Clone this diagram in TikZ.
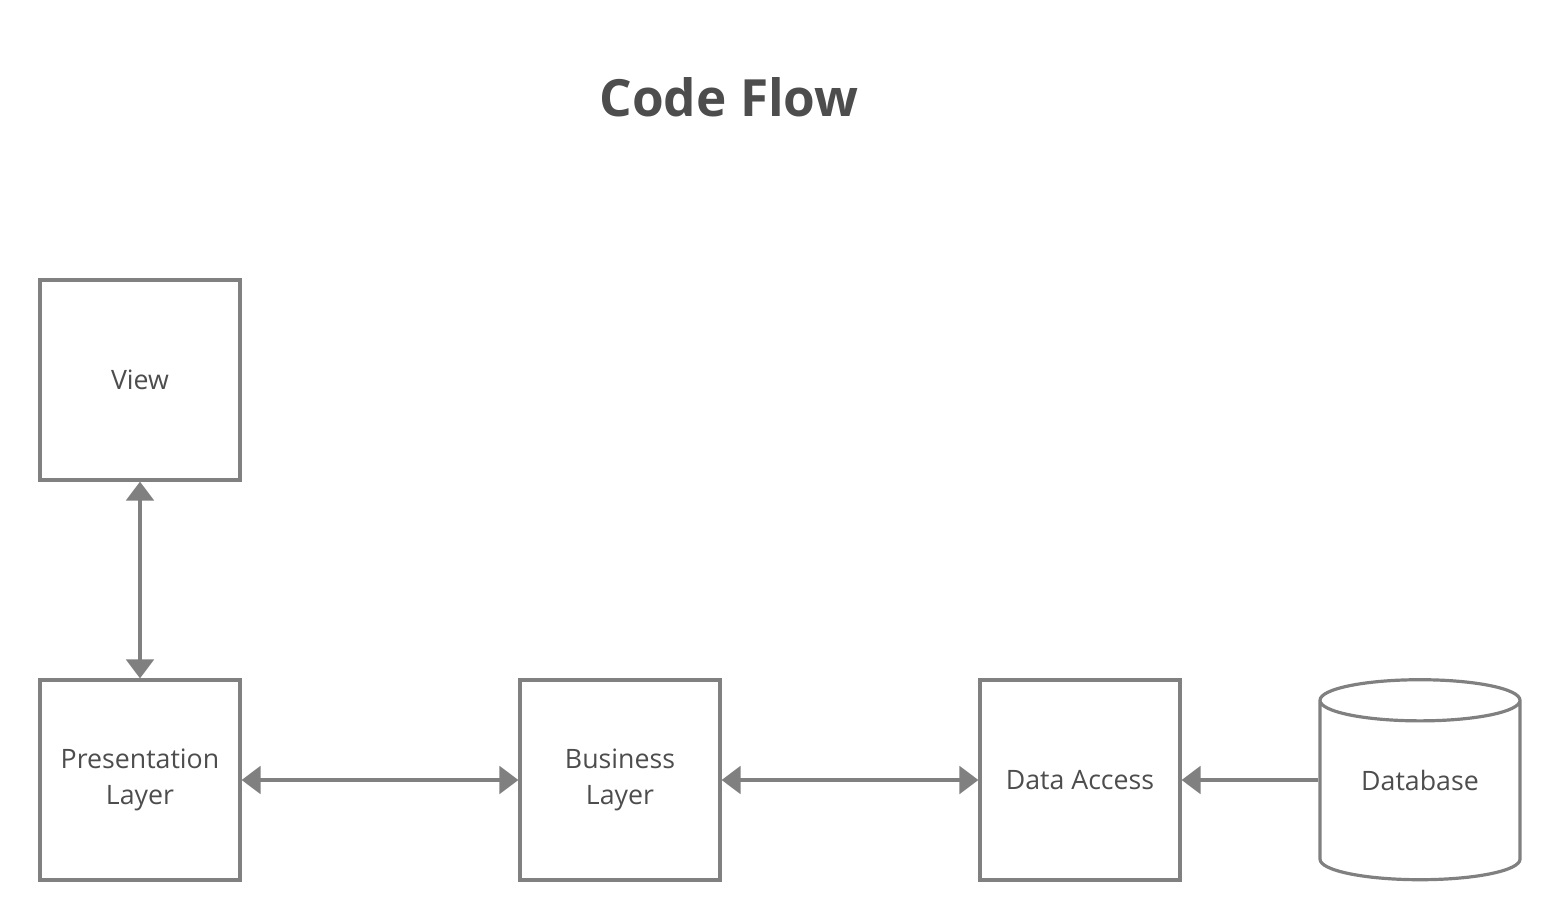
\documentclass[tikz,border=0pt]{standalone}
\usepackage{fontspec}
\setmainfont{Open Sans}
\usetikzlibrary{arrows.meta, positioning, shapes.geometric}

\definecolor{linegray}{HTML}{808080}
\definecolor{textgray}{HTML}{4D4D4D}

\tikzset{
    block/.style = {draw=linegray, line width=0.08cm, rectangle,
                    minimum width=5cm, minimum height=5cm, align=center,
                    text=textgray, font=\fontsize{19pt}{25.5pt}\selectfont},
    store/.style = {draw=linegray, line width=0.08cm, cylinder,
                    shape border rotate=90, aspect=0.35,
                    minimum width=5cm, minimum height=5cm, inner sep=0pt,
                    text=textgray, font=\fontsize{19pt}{25.5pt}\selectfont},
    >={Triangle[width=19.5pt, length=13.5pt]},
    link/.style  = {color=linegray, line width=0.1cm, ->},
    twoway/.style = {color=linegray, line width=0.1cm, <->}
}

\begin{document}
\begin{tikzpicture} [node distance = 10cm, on grid]
    \useasboundingbox (-3.5,-13.5) rectangle (35.5,9.5);

    \node (title) at (14.725,7.075) [text=textgray, font=\fontsize{36.5pt}{44pt}\selectfont\bfseries] {Code Flow};

    \node (view) [block] {View};
    \node (pres) [block, below = of view] {Presentation\\Layer};
    \node (bus) [block, right = 12cm of pres] {Business\\Layer};
    \node (data) [block, right = 11.5cm of bus] {Data Access};
    \node (db) [store, right = 8.5cm of data, yshift=-0.27cm] {\raisebox{0.27cm}[\height][\depth]{Database}};

    \path [twoway] (view) edge (pres);
    \path [twoway] (pres) edge (bus);
    \path [twoway] (bus) edge (data);
    \path [link] (db.west |- data) edge (data);
\end{tikzpicture}
\end{document}
